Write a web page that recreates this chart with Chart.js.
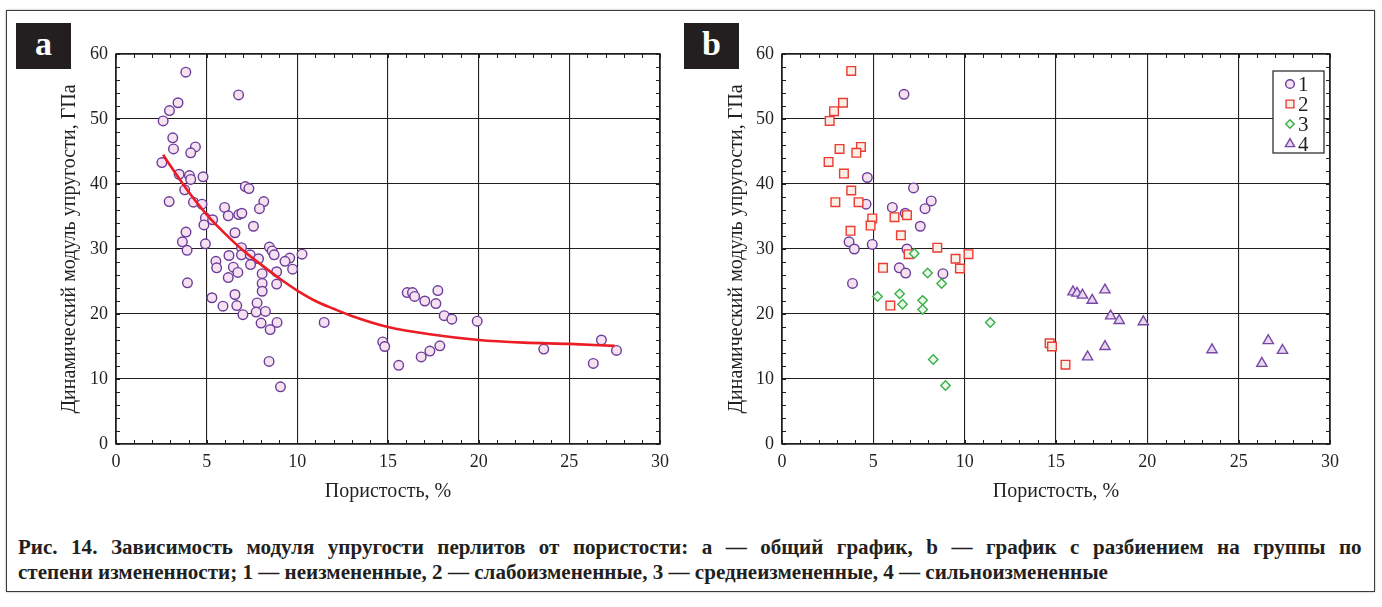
<!DOCTYPE html>
<html><head><meta charset="utf-8">
<script src="https://cdn.jsdelivr.net/npm/chart.js@4.4.1/dist/chart.umd.min.js"></script>
<style>
body{margin:0;background:#fff;width:1382px;height:607px;overflow:hidden;position:relative;font-family:"Liberation Serif",serif;}
#frame{position:absolute;left:6px;top:10px;width:1367px;height:580px;border:1.5px solid #3a3a3a;box-shadow:0 0 2px #aaa;}
#ca{position:absolute;left:0;top:0;}
#cb{position:absolute;left:690px;top:0;}
.lab{position:absolute;top:23px;width:55px;height:46px;background:#231f20;color:#fff;font:bold 34px "Liberation Serif",serif;text-align:center;line-height:42px;z-index:3;}
#caption{position:absolute;left:18px;top:535px;width:1276px;font:bold 20px "Liberation Serif",serif;line-height:25px;color:#231f20;z-index:3;transform:scaleX(1.053);transform-origin:0 0;}
#caption .l1{text-align:justify;text-align-last:justify;white-space:normal;}
#caption .l2{white-space:nowrap;}
</style></head>
<body>
<div id="frame"></div>
<canvas id="ca" width="690" height="520"></canvas>
<canvas id="cb" width="690" height="520"></canvas>
<div class="lab" style="left:16px">a</div>
<div class="lab" style="left:684px">b</div>
<div id="caption"><div class="l1">Рис. 14. Зависимость модуля упругости перлитов от пористости: a — общий график, b — график с разбиением на группы по</div><div class="l2">степени измененности; 1 — неизмененные, 2 — слабоизмененные, 3 — среднеизмененные, 4 — сильноизмененные</div></div>
<script>
// ---------- data ----------
const xTickValues = [0, 5, 10, 15, 20, 25, 30];
const yTickValues = [0, 10, 20, 30, 40, 50, 60];
const xTitle = 'Пористость, %';
const yTitle = 'Динамический модуль упругости, ГПа';
const legendLabels = ['1', '2', '3', '4'];

// panel a: all samples
const allPorosity = [3.85,6.76,3.42,2.95,2.60,3.13,3.17,4.38,4.12,2.53,3.48,4.05,4.12,4.80,7.13,7.33,3.79,2.93,4.27,4.74,8.15,5.99,7.91,6.19,6.77,6.94,4.93,5.33,4.85,7.58,6.56,3.86,3.66,3.92,4.93,8.46,8.61,8.72,6.92,6.92,7.40,6.23,10.26,9.58,9.32,9.74,7.86,5.51,5.55,6.47,7.42,6.72,8.86,8.06,6.19,8.06,8.86,8.06,3.94,5.29,6.56,6.66,5.90,7.78,7.00,7.73,8.24,8.00,8.88,8.50,11.48,8.44,9.07,14.71,14.82,15.59,16.06,16.35,16.47,17.03,17.75,17.64,18.10,18.52,19.92,17.86,17.31,16.83,23.59,26.77,27.60,26.32];
const allModulus  = [57.2,53.7,52.5,51.3,49.7,47.1,45.4,45.7,44.8,43.3,41.5,41.3,40.7,41.1,39.6,39.3,39.1,37.3,37.2,36.9,37.3,36.4,36.2,35.1,35.3,35.5,34.8,34.5,33.7,33.5,32.5,32.6,31.1,29.8,30.8,30.3,29.7,29.1,30.2,29.1,29.1,29.0,29.2,28.6,28.1,26.9,28.5,28.1,27.1,27.2,27.6,26.4,26.5,26.2,25.6,24.7,24.6,23.5,24.8,22.5,23.0,21.3,21.2,21.7,19.9,20.3,20.4,18.6,18.7,17.6,18.7,12.7,8.8,15.7,15.0,12.1,23.3,23.3,22.7,22.0,23.6,21.6,19.75,19.2,18.9,15.1,14.3,13.4,14.6,16.0,14.4,12.4];
// panel a: trend curve
const fitPorosity = [2.6,3,4,5,6,7,8,9,10,11,12,13,15,17.5,20,22.5,25,27.5];
const fitModulus  = [44.5,42.8,38.8,35.3,32.4,29.8,27.6,25.5,23.6,22.0,20.8,19.7,18.0,16.8,16.0,15.6,15.4,15.1];

// panel b: groups
const g1Porosity = [6.68,4.67,7.20,8.17,4.60,6.04,7.83,6.75,7.57,3.67,3.96,4.94,6.84,6.42,6.77,8.81,3.86];
const g1Modulus  = [53.8,41.0,39.4,37.4,36.9,36.4,36.2,35.5,33.5,31.1,30.0,30.7,30.0,27.1,26.3,26.2,24.7];
const g2Porosity = [3.79,3.34,2.85,2.61,3.15,4.32,4.07,2.55,3.39,3.79,2.92,4.19,4.94,4.85,6.16,6.84,3.75,6.51,6.93,8.50,9.50,10.21,9.74,5.53,5.93,14.65,14.78,15.52];
const g2Modulus  = [57.4,52.5,51.2,49.7,45.4,45.7,44.8,43.4,41.6,39.0,37.2,37.2,34.7,33.6,34.9,35.2,32.8,32.1,29.2,30.2,28.5,29.2,27.0,27.1,21.3,15.5,15.0,12.2];
const g3Porosity = [7.24,7.97,8.74,5.23,6.44,6.60,7.70,7.70,11.40,8.28,8.95];
const g3Modulus  = [29.3,26.3,24.7,22.7,23.1,21.5,22.1,20.7,18.7,13.0,9.0];
const g4Porosity = [15.93,16.15,16.45,16.98,17.68,17.99,18.46,19.78,17.68,16.73,23.54,26.62,27.40,26.27];
const g4Modulus  = [23.4,23.2,22.9,22.1,23.7,19.7,19.0,18.8,15.0,13.4,14.5,15.9,14.4,12.4];

// ---------- helpers ----------
const FONT = '"Liberation Serif", "Times New Roman", serif';
const INK = '#231f20';
const pts = (xs, ys) => xs.map((x, i) => ({x, y: ys[i]}));

const styles = [
  {pointStyle:'circle',   radius:4.8, borderColor:'#6a3d9a', backgroundColor:'#f6e1f0'},
  {pointStyle:'rect',     radius:6.1, borderColor:'#ec3b33', backgroundColor:'#fbf0e6'},
  {pointStyle:'rectRot',  radius:4.7, borderColor:'#3aae48', backgroundColor:'#ebf7ea'},
  {pointStyle:'triangle', radius:5.9, borderColor:'#7a46a6', backgroundColor:'#e5d8ef'}
];

const framePlugin = {
  id: 'frameTicks',
  beforeDatasetsDraw(chart) {
    const {ctx, chartArea: {left, right, top, bottom}, scales: {x, y}} = chart;
    ctx.save();
    ctx.strokeStyle = INK;
    ctx.lineWidth = 1;
    ctx.beginPath();
    for (let v = x.min; v <= x.max; v += 1) {
      const px = Math.round(x.getPixelForValue(v)) + 0.5;
      ctx.moveTo(px, bottom); ctx.lineTo(px, bottom - 4);
      ctx.moveTo(px, top); ctx.lineTo(px, top + 4);
    }
    for (let v = y.min; v <= y.max; v += 2) {
      const py = Math.round(y.getPixelForValue(v)) + 0.5;
      ctx.moveTo(left, py); ctx.lineTo(left + 4, py);
      ctx.moveTo(right, py); ctx.lineTo(right - 4, py);
    }
    ctx.stroke();
    ctx.lineWidth = 1.5;
    ctx.strokeRect(left, top, right - left, bottom - top);
    ctx.restore();
  }
};

const legendPlugin = {
  id: 'boxLegend',
  afterDatasetsDraw(chart) {
    const {ctx, chartArea: {right, top}} = chart;
    const bx = right - 57, by = top + 17, bw = 51, bh = 82;
    ctx.save();
    ctx.fillStyle = '#fff';
    ctx.fillRect(bx, by, bw, bh);
    ctx.strokeStyle = INK; ctx.lineWidth = 1.2;
    ctx.strokeRect(bx, by, bw, bh);
    legendLabels.forEach((lab, i) => {
      const s = styles[i];
      const cy = by + 13 + i * 20;
      ctx.fillStyle = s.backgroundColor; ctx.strokeStyle = s.borderColor; ctx.lineWidth = 1.4;
      Chart.helpers.drawPoint(ctx, {pointStyle: s.pointStyle, radius: s.radius * 0.9, rotation: 0, borderWidth: 1.4}, bx + 17, cy);
      ctx.fillStyle = INK;
      ctx.font = '21px ' + FONT;
      ctx.textBaseline = 'middle';
      ctx.fillText(lab, bx + 25, cy + 1);
    });
    ctx.restore();
  }
};

function makeOptions(padRight, yWidth, yTitlePad) {
  return {
    responsive: false, animation: false, events: [],
    layout: {padding: {left: 0, right: padRight, top: 54, bottom: 0}},
    plugins: {legend: {display: false}, tooltip: {enabled: false}},
    scales: {
      x: {
        type: 'linear', min: 0, max: 30,
        afterBuildTicks: s => { s.ticks = xTickValues.map(v => ({value: v})); },
        afterFit: s => { s.height = 76; },
        ticks: {font: {family: FONT, size: 18}, color: INK, padding: 7},
        grid: {color: INK, lineWidth: 1.1, drawTicks: false},
        border: {display: false},
        title: {display: true, text: xTitle, font: {family: FONT, size: 20}, color: INK, padding: {top: 0, bottom: 16}}
      },
      y: {
        type: 'linear', min: 0, max: 60,
        afterBuildTicks: s => { s.ticks = yTickValues.map(v => ({value: v})); },
        afterFit: s => { s.width = yWidth; },
        ticks: {font: {family: FONT, size: 18}, color: INK, padding: 8},
        grid: {color: INK, lineWidth: 1.1, drawTicks: false},
        border: {display: false},
        title: {display: true, text: yTitle, font: {family: FONT, size: 20}, color: INK, padding: {top: yTitlePad, bottom: 0}}
      }
    }
  };
}

new Chart(document.getElementById('ca'), {
  type: 'scatter',
  data: {datasets: [
    {data: pts(fitPorosity, fitModulus), showLine: true, borderColor: '#ec1c24', borderWidth: 2.6, pointRadius: 0, cubicInterpolationMode: 'monotone', fill: false, order: 0},
    Object.assign({data: pts(allPorosity, allModulus), borderWidth: 1.4, order: 1}, styles[0])
  ]},
  options: makeOptions(30, 116, 58),
  plugins: [framePlugin]
});

const groups = [[g1Porosity, g1Modulus], [g2Porosity, g2Modulus], [g3Porosity, g3Modulus], [g4Porosity, g4Modulus]];
new Chart(document.getElementById('cb'), {
  type: 'scatter',
  data: {datasets: groups.map((g, i) => Object.assign({data: pts(g[0], g[1]), borderWidth: 1.4, order: 4 - i}, styles[i]))},
  options: makeOptions(50, 92, 35),
  plugins: [framePlugin, legendPlugin]
});
</script>
</body></html>
